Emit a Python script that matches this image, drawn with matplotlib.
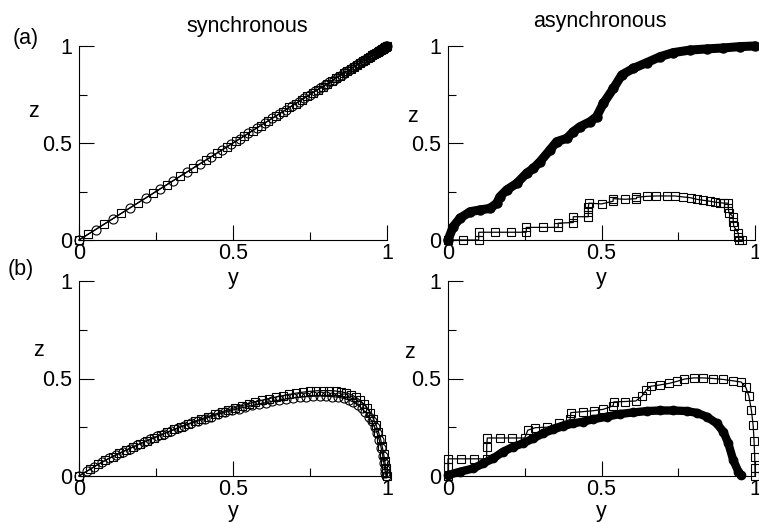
import matplotlib
matplotlib.use("Agg")
import matplotlib.pyplot as plt
from matplotlib.ticker import FixedLocator

plt.rcParams['font.family'] = ['Liberation Sans', 'DejaVu Sans']

# ---------------- data ----------------
# (a) synchronous: z = y, two runs (circles, squares)
sync_a_circ_y = [0, 0.054, 0.11, 0.164, 0.216, 0.262, 0.306, 0.35, 0.392, 0.43, 0.463, 0.495, 0.523,
                 0.55, 0.577, 0.603, 0.627, 0.65, 0.672, 0.693, 0.713, 0.732, 0.75, 0.767, 0.783, 0.798,
                 0.813, 0.827, 0.84, 0.853, 0.865, 0.876, 0.887, 0.897, 0.907, 0.916, 0.925, 0.933,
                 0.941, 0.948, 0.955, 0.961, 0.967, 0.972, 0.977, 0.981, 0.985, 0.988, 0.991, 0.994,
                 0.996, 0.998, 1.0]
sync_a_circ_z = [0, 0.054, 0.11, 0.164, 0.216, 0.262, 0.306, 0.35, 0.392, 0.43, 0.463, 0.495, 0.523,
                 0.55, 0.577, 0.603, 0.627, 0.65, 0.672, 0.693, 0.713, 0.732, 0.75, 0.767, 0.783, 0.798,
                 0.813, 0.827, 0.84, 0.853, 0.865, 0.876, 0.887, 0.897, 0.907, 0.916, 0.925, 0.933,
                 0.941, 0.948, 0.955, 0.961, 0.967, 0.972, 0.977, 0.981, 0.985, 0.988, 0.991, 0.994,
                 0.996, 0.998, 1.0]
sync_a_sq_y = [0, 0.03, 0.082, 0.137, 0.19, 0.24, 0.285, 0.328, 0.371, 0.411, 0.447, 0.479, 0.509,
               0.537, 0.564, 0.59, 0.615, 0.639, 0.661, 0.683, 0.703, 0.723, 0.741, 0.759, 0.775,
               0.791, 0.806, 0.82, 0.834, 0.847, 0.859, 0.871, 0.882, 0.892, 0.902, 0.912, 0.921,
               0.929, 0.937, 0.945, 0.952, 0.958, 0.964, 0.97, 0.975, 0.979, 0.983, 0.987, 0.99,
               0.993, 0.995, 0.997, 0.999]
sync_a_sq_z = [0, 0.03, 0.082, 0.137, 0.19, 0.24, 0.285, 0.328, 0.371, 0.411, 0.447, 0.479, 0.509,
               0.537, 0.564, 0.59, 0.615, 0.639, 0.661, 0.683, 0.703, 0.723, 0.741, 0.759, 0.775,
               0.791, 0.806, 0.82, 0.834, 0.847, 0.859, 0.871, 0.882, 0.892, 0.902, 0.912, 0.921,
               0.929, 0.937, 0.945, 0.952, 0.958, 0.964, 0.97, 0.975, 0.979, 0.983, 0.987, 0.99,
               0.993, 0.995, 0.997, 0.999]

# (a) asynchronous
async_a_circ_y = [0, 0.017, 0.039, 0.072, 0.104, 0.137, 0.159, 0.169, 0.191, 0.224, 0.256, 0.278,
                  0.3, 0.332, 0.354, 0.387, 0.408, 0.43, 0.463, 0.484, 0.506, 0.539, 0.566, 0.604,
                  0.647, 0.691, 0.734, 0.788, 0.843, 0.897, 0.951, 1.0]
async_a_circ_z = [0, 0.069, 0.112, 0.146, 0.155, 0.163, 0.19, 0.223, 0.258, 0.292, 0.344, 0.369,
                  0.404, 0.464, 0.507, 0.524, 0.558, 0.584, 0.61, 0.636, 0.704, 0.782, 0.851, 0.885,
                  0.914, 0.945, 0.966, 0.979, 0.985, 0.99, 0.997, 1.0]
async_a_sq_y = [0, 0.049, 0.1, 0.1, 0.152, 0.204, 0.255, 0.255, 0.308, 0.359, 0.359, 0.408, 0.408,
                0.457, 0.457, 0.457, 0.459, 0.5, 0.538, 0.538, 0.576, 0.614, 0.614, 0.647, 0.679,
                0.712, 0.739, 0.766, 0.79, 0.81, 0.83, 0.853, 0.87, 0.886, 0.9, 0.913, 0.913, 0.915,
                0.929, 0.929, 0.931, 0.946, 0.946, 0.948, 0.957]
async_a_sq_z = [0, 0, 0, 0.04, 0.04, 0.04, 0.04, 0.065, 0.065, 0.065, 0.087, 0.09, 0.12, 0.12,
                0.145, 0.17, 0.19, 0.186, 0.2, 0.213, 0.21, 0.213, 0.22, 0.225, 0.227, 0.227, 0.227,
                0.222, 0.218, 0.21, 0.205, 0.2, 0.195, 0.192, 0.19, 0.19, 0.165, 0.14, 0.12, 0.095,
                0.07, 0.035, 0.015, 0, 0]

# (b) synchronous
sync_b_circ_y = [0, 0.025, 0.05, 0.074, 0.097, 0.12, 0.142, 0.165, 0.188, 0.21, 0.232, 0.254, 0.276,
                 0.298, 0.32, 0.342, 0.364, 0.386, 0.408, 0.43, 0.452, 0.474, 0.496, 0.518, 0.54,
                 0.562, 0.584, 0.606, 0.628, 0.65, 0.672, 0.694, 0.716, 0.738, 0.76, 0.782, 0.803,
                 0.823, 0.842, 0.86, 0.876, 0.891, 0.905, 0.918, 0.93, 0.941, 0.951, 0.96, 0.968,
                 0.975, 0.981, 0.986, 0.99, 0.993, 0.995, 0.997]
sync_b_circ_z = [0, 0.024, 0.048, 0.07, 0.09, 0.107, 0.124, 0.141, 0.158, 0.173, 0.188, 0.203, 0.217,
                 0.231, 0.245, 0.258, 0.27, 0.282, 0.294, 0.305, 0.316, 0.327, 0.337, 0.346, 0.354,
                 0.362, 0.369, 0.376, 0.383, 0.389, 0.395, 0.4, 0.404, 0.407, 0.409, 0.41, 0.409,
                 0.407, 0.404, 0.398, 0.39, 0.379, 0.365, 0.347, 0.327, 0.305, 0.28, 0.25, 0.22,
                 0.185, 0.145, 0.105, 0.065, 0.035, 0.015, 0.0]
sync_b_sq_y = [0, 0.037, 0.062, 0.086, 0.109, 0.131, 0.153, 0.176, 0.199, 0.221, 0.243, 0.265, 0.287,
               0.309, 0.331, 0.353, 0.375, 0.397, 0.419, 0.441, 0.463, 0.485, 0.507, 0.529, 0.551,
               0.573, 0.595, 0.617, 0.639, 0.661, 0.683, 0.705, 0.727, 0.749, 0.771, 0.793, 0.813,
               0.833, 0.851, 0.868, 0.884, 0.898, 0.912, 0.924, 0.936, 0.946, 0.956, 0.964, 0.972,
               0.979, 0.984, 0.989, 0.993, 0.996, 0.998, 0.999]
sync_b_sq_z = [0, 0.036, 0.06, 0.081, 0.1, 0.117, 0.133, 0.15, 0.166, 0.181, 0.196, 0.211, 0.225,
               0.239, 0.253, 0.267, 0.28, 0.293, 0.305, 0.317, 0.329, 0.34, 0.351, 0.361, 0.371,
               0.38, 0.389, 0.397, 0.405, 0.412, 0.419, 0.425, 0.43, 0.434, 0.437, 0.438, 0.438,
               0.436, 0.432, 0.426, 0.417, 0.405, 0.389, 0.37, 0.347, 0.322, 0.293, 0.263, 0.228,
               0.19, 0.155, 0.115, 0.075, 0.04, 0.015, 0.0]

# (b) asynchronous
async_b_circ_y = [0, 0.039, 0.083, 0.115, 0.148, 0.18, 0.213, 0.245, 0.278, 0.31, 0.343, 0.376,
                  0.408, 0.441, 0.473, 0.517, 0.56, 0.604, 0.647, 0.691, 0.734, 0.777, 0.81, 0.843,
                  0.875, 0.897, 0.913, 0.929, 0.946, 0.953]
async_b_circ_z = [0.005, 0.022, 0.039, 0.065, 0.091, 0.125, 0.15, 0.168, 0.193, 0.219, 0.239, 0.256,
                  0.27, 0.279, 0.291, 0.304, 0.318, 0.326, 0.333, 0.336, 0.336, 0.333, 0.324, 0.304,
                  0.27, 0.227, 0.168, 0.082, 0.022, 0.005]
async_b_sq_y = [0, 0, 0, 0.043, 0.085, 0.126, 0.126, 0.128, 0.168, 0.207, 0.25, 0.26, 0.285, 0.322,
                0.36, 0.398, 0.4, 0.44, 0.474, 0.506, 0.538, 0.54, 0.576, 0.612, 0.632, 0.645, 0.66,
                0.69, 0.72, 0.745, 0.77, 0.8, 0.832, 0.864, 0.897, 0.929, 0.955, 0.97, 0.98, 0.988,
                0.994, 0.997, 0.999, 1.0, 1.0]
async_b_sq_z = [0, 0.045, 0.088, 0.088, 0.088, 0.088, 0.15, 0.195, 0.195, 0.195, 0.195, 0.235,
                0.248, 0.25, 0.27, 0.29, 0.325, 0.33, 0.335, 0.342, 0.36, 0.38, 0.382, 0.385, 0.41,
                0.44, 0.46, 0.467, 0.475, 0.485, 0.497, 0.503, 0.503, 0.5, 0.495, 0.488, 0.482,
                0.455, 0.41, 0.34, 0.26, 0.18, 0.1, 0.04, 0]

major_ticks = [0, 0.5, 1]
minor_ticks = [0.25, 0.75]
tick_labels = ['0', '0.5', '1']

# ---------------- figure ----------------
W, H = 759, 522
fig = plt.figure(figsize=(W / 100, H / 100), dpi=100)

def rect(l, r, t, b):
    return [l / W, 1 - b / H, (r - l) / W, (b - t) / H]

ax_tl = fig.add_axes(rect(79, 387, 46, 240))
ax_tr = fig.add_axes(rect(448, 755, 46, 240))
ax_bl = fig.add_axes(rect(79, 387, 281, 476))
ax_br = fig.add_axes(rect(448, 755, 281, 476))

FS = 15.5

def style(ax, zlab_xy, ylab_y):
    ax.set_facecolor('none')
    ax.set_xlim(0, 1)
    ax.set_ylim(0, 1)
    for s in ['top', 'right']:
        ax.spines[s].set_visible(False)
    for s in ['left', 'bottom']:
        ax.spines[s].set_linewidth(0.8)
    ax.xaxis.set_major_locator(FixedLocator(major_ticks))
    ax.yaxis.set_major_locator(FixedLocator(major_ticks))
    ax.xaxis.set_minor_locator(FixedLocator(minor_ticks))
    ax.yaxis.set_minor_locator(FixedLocator(minor_ticks))
    ax.set_xticklabels(tick_labels)
    ax.set_yticklabels(tick_labels)
    ax.tick_params(which='major', direction='in', length=11, width=0.8, labelsize=FS)
    ax.tick_params(which='minor', direction='in', length=6, width=0.8)
    ax.tick_params(axis='x', which='major', pad=2)
    ax.tick_params(axis='y', which='major', pad=5)
    ax.set_xlabel('y', fontsize=FS)
    ax.xaxis.set_label_coords(0.5, ylab_y)
    ax.set_ylabel('z', fontsize=FS, rotation=0, ha='center', va='center')
    ax.yaxis.set_label_coords(*zlab_xy)

open_kw = dict(color='black', lw=0.9, mfc='none', mec='black', mew=0.8, clip_on=False)

# top-left: synchronous (a)
ax_tl.plot(sync_a_circ_y, sync_a_circ_z, marker='o', ms=6.5, **open_kw)
ax_tl.plot(sync_a_sq_y, sync_a_sq_z, marker='s', ms=5.5, **open_kw)

# top-right: asynchronous (a)
ax_tr.plot(async_a_sq_y, async_a_sq_z, marker='s', ms=5.5, **open_kw)
ax_tr.plot(async_a_circ_y, async_a_circ_z, color='black', lw=6.5, solid_capstyle='round',
           solid_joinstyle='round', marker='o', ms=6.5, mfc='black', mec='black', clip_on=False)

# bottom-left: synchronous (b)
ax_bl.plot(sync_b_circ_y, sync_b_circ_z, marker='o', ms=6.5, **open_kw)
ax_bl.plot(sync_b_sq_y, sync_b_sq_z, marker='s', ms=5.5, **open_kw)

# bottom-right: asynchronous (b)
ax_br.plot(async_b_sq_y, async_b_sq_z, marker='s', ms=5.5, **open_kw)
ax_br.plot(async_b_circ_y, async_b_circ_z, color='black', lw=6, solid_capstyle='round',
           solid_joinstyle='round', marker='o', ms=6, mfc='black', mec='black', clip_on=False)

style(ax_tl, (-0.149, 0.66), -0.144)
style(ax_tr, (-0.117, 0.639), -0.144)
style(ax_bl, (-0.133, 0.646), -0.126)
style(ax_br, (-0.125, 0.631), -0.126)

fig.text(247 / W, 1 - 31.7 / H, 'synchronous', fontsize=FS, ha='center', va='baseline')
fig.text(600 / W, 1 - 26.7 / H, 'asynchronous', fontsize=FS, ha='center', va='baseline')
fig.text(13 / W, 1 - 44 / H, '(a)', fontsize=FS, ha='left', va='baseline')
fig.text(8 / W, 1 - 275 / H, '(b)', fontsize=FS, ha='left', va='baseline')

fig.savefig('out.png', dpi=100)
